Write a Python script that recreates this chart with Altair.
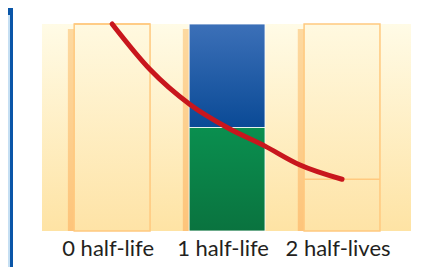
import altair as alt
import pandas as pd

# ---- data ----
labels = ["0 half-life", "1 half-life", "2 half-lives"]
half_lives = [0, 1, 2]
remaining = [1.0, 0.5, 0.25]
filled = [False, True, False]

curve_t = [0, 0.33, 0.68, 1.0, 1.33, 1.63, 2.0]
curve_f = [1.0, 0.78, 0.61, 0.50, 0.41, 0.32, 0.25]

W, H = 369, 207

boxes = pd.DataFrame({"label": labels, "t": half_lives,
                      "remaining": remaining, "filled": filled})
curve = pd.DataFrame({"t": curve_t, "f": curve_f})
one = pd.DataFrame({"a": [0]})

xs = alt.Scale(domain=[-0.61, 2.6], nice=False, zero=False)
ys = alt.Scale(domain=[0, 1], nice=False, zero=False)


def grad(top, bottom):
    return alt.Gradient(
        gradient="linear", x1=0, x2=0, y1=0, y2=1,
        stops=[alt.GradientStop(color=top, offset=0),
               alt.GradientStop(color=bottom, offset=1)],
    )


background = alt.Chart(one).mark_rect(fill=grad("#FFFBE6", "#FEE3A4")).encode(
    x=alt.value(0), x2=alt.value(W), y=alt.value(0), y2=alt.value(H)
)

base = alt.Chart(boxes).transform_calculate(
    sl="datum.t - 0.385", sr="datum.t - 0.33",
    bl="datum.t - 0.33", br="datum.t + 0.33",
    stop="0.976", top="1", zero="0",
)

shadow = base.mark_rect(fill=grad("#FDD9A0", "#FDC47A")).encode(
    x=alt.X("sl:Q", scale=xs, axis=None), x2="sr:Q",
    y=alt.Y("stop:Q", scale=ys, axis=None), y2="zero:Q",
)

outline = base.transform_filter("!datum.filled").mark_rect(
    fill=grad("#FFF9E0", "#FEE3A6"), stroke="#FFC97F", strokeWidth=1.5
).encode(
    x=alt.X("bl:Q", scale=xs, axis=None), x2="br:Q",
    y=alt.Y("top:Q", scale=ys, axis=None), y2="zero:Q",
)

level = base.transform_filter("!datum.filled").mark_rule(
    color="#FFC97F", strokeWidth=1.5
).encode(
    x=alt.X("bl:Q", scale=xs, axis=None), x2="br:Q",
    y=alt.Y("remaining:Q", scale=ys, axis=None),
)

blue = base.transform_filter("datum.filled").mark_rect(
    fill=grad("#3C70B8", "#0A4A96"), stroke="#FFFFFF", strokeWidth=1, strokeOpacity=0.8
).encode(
    x=alt.X("bl:Q", scale=xs, axis=None), x2="br:Q",
    y=alt.Y("top:Q", scale=ys, axis=None), y2="remaining:Q",
)

green = base.transform_filter("datum.filled").mark_rect(
    fill=grad("#0A8F4F", "#0A733F"), stroke="#FFFFFF", strokeWidth=1, strokeOpacity=0.8
).encode(
    x=alt.X("bl:Q", scale=xs, axis=None), x2="br:Q",
    y=alt.Y("remaining:Q", scale=ys, axis=None), y2="zero:Q",
)

line = alt.Chart(curve).mark_line(
    color="#C8161D", strokeWidth=5, strokeCap="round", interpolate="monotone", clip=False
).encode(
    x=alt.X("t:Q", scale=xs, axis=None),
    y=alt.Y("f:Q", scale=ys, axis=None),
)

text = alt.Chart(boxes).mark_text(
    font="Lato", fontSize=22, color="#231F20", baseline="alphabetic", dx=-4
).encode(
    x=alt.X("t:Q", scale=xs, axis=None),
    y=alt.value(H + 25),
    text="label:N",
)

frame_light = alt.Chart(one).mark_rect(color="#C5DFF3").encode(
    x=alt.value(-34), x2=alt.value(-32), y=alt.value(-9), y2=alt.value(H + 36)
)
frame_dark = alt.Chart(one).mark_rect(color="#0A56A8").encode(
    x=alt.value(-32), x2=alt.value(-29), y=alt.value(-16), y2=alt.value(H + 36)
)
frame_corner = alt.Chart(one).mark_rect(color="#0A56A8").encode(
    x=alt.value(-34), x2=alt.value(-32), y=alt.value(-16), y2=alt.value(-9)
)

chart = alt.layer(
    background, shadow, outline, level, blue, green, line, text,
    frame_light, frame_dark, frame_corner,
).properties(
    width=W, height=H,
    padding={"left": 34, "top": 16, "right": 13, "bottom": 36},
    autosize="none",
).configure_view(stroke=None)

chart.save("out.html", embed_options={"renderer": "svg", "actions": False})
